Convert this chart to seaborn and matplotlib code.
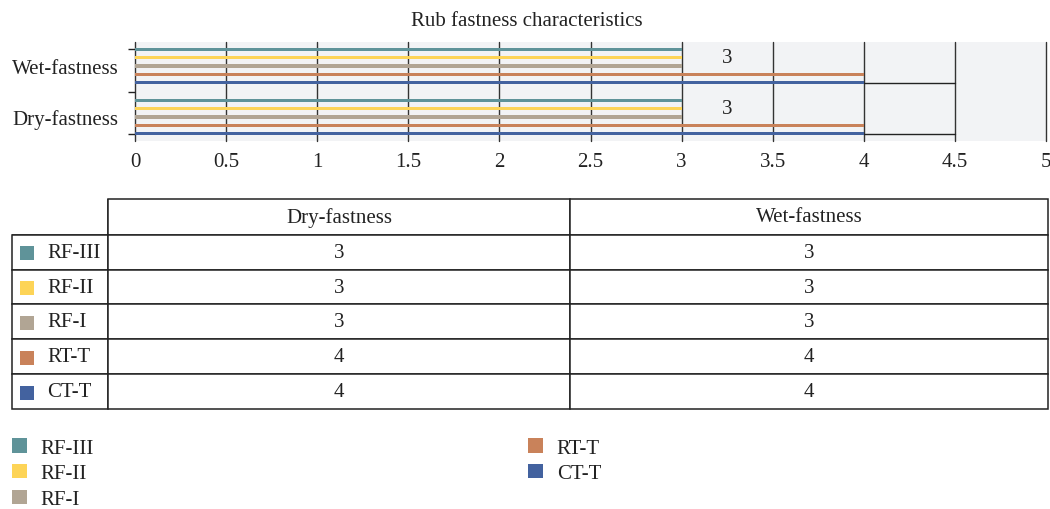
import pandas as pd
import matplotlib
matplotlib.use("Agg")
from matplotlib import pyplot as plt
from matplotlib.patches import Patch, Rectangle
import seaborn as sns

# data
properties = ["Wet-fastness", "Dry-fastness"]   # top to bottom in the chart
samples = ["RF-III", "RF-II", "RF-I", "RT-T", "CT-T"]
dry_fastness = [3, 3, 3, 4, 4]
wet_fastness = [3, 3, 3, 4, 4]
colors = ["#5f9399", "#fdd457", "#b1a594", "#c9825a", "#43629f"]
x_ticks = [0, 0.5, 1, 1.5, 2, 2.5, 3, 3.5, 4, 4.5, 5]
table_cols = ["Dry-fastness", "Wet-fastness"]

W, H = 1050, 510
FONT = 15
TXT = "#222222"

sns.set_style("whitegrid", {"axes.facecolor": "#f2f3f5", "grid.color": "#333333"})
plt.rcParams["font.family"] = ["Liberation Serif", "DejaVu Serif"]
plt.rcParams["text.color"] = TXT

df = pd.DataFrame({
    "property": ["Dry-fastness"] * 5 + ["Wet-fastness"] * 5,
    "sample": samples * 2,
    "value": dry_fastness + wet_fastness,
})

fig = plt.figure(figsize=(W / 100, H / 100), dpi=100)

# --- bar chart ---
ax = fig.add_axes([135 / W, 1 - 142 / H, (1046 - 135) / W, 99 / H])
sns.barplot(data=df, y="property", x="value", hue="sample", order=properties,
            hue_order=samples, palette=colors, orient="h", width=0.82,
            saturation=1, legend=False, ax=ax)

# bars drawn as thin strips, like in the reference
thick = 0.06
for p in ax.patches:
    cy = p.get_y() + p.get_height() / 2
    p.set_height(thick)
    p.set_y(cy - thick / 2)
    p.set_edgecolor("none")
    p.set_zorder(3)

# value label and the small stray segments past the CT-T bars
n = len(samples)
bars = sorted(ax.patches, key=lambda p: p.get_y())
for g, vals in enumerate([wet_fastness, dry_fastness]):
    grp = bars[g * n:(g + 1) * n]
    y_mid = grp[1].get_y() + thick / 2
    ax.text(3.25, y_mid, str(vals[1]), ha="center", va="center", fontsize=FONT, color=TXT)
    y_ct = grp[-1].get_y() + thick / 2
    ax.plot([4, 4.5], [y_ct, y_ct], color="#222222", lw=1, zorder=2)

ax.set_xlim(0, 5)
ax.set_ylim(1.47, -0.47)
ax.set_xticks(x_ticks)
ax.set_xticklabels([f"{t:g}" for t in x_ticks])
ax.set_yticks([-0.33, 0.5, 1.33], minor=True)
ax.tick_params(axis="y", which="minor", length=5, width=1, color="#222222", left=True)
ax.tick_params(axis="y", which="major", length=0, pad=12, labelsize=FONT, labelcolor=TXT)
ax.tick_params(axis="x", length=0, pad=8, labelsize=FONT, labelcolor=TXT)
ax.grid(True, axis="x", color="#333333", lw=1)
ax.grid(False, axis="y")
ax.set_axisbelow(True)
for gl in ax.get_xgridlines():
    gl.set_clip_on(False)
for s in ax.spines.values():
    s.set_visible(False)
ax.set_xlabel("")
ax.set_ylabel("")
fig.text(527 / W, 1 - 21 / H, "Rub fastness characteristics", ha="center", va="center",
         fontsize=FONT, color=TXT)

# --- data table ---
tax = fig.add_axes([12 / W, 1 - 410 / H, 1036 / W, 210 / H])
tax.axis("off")
cell_text = [["", table_cols[0], table_cols[1]]]
cell_text += [[s, str(d), str(w)] for s, d, w in zip(samples, dry_fastness, wet_fastness)]
tab = tax.table(cellText=cell_text, cellLoc="center", bbox=[0, 0, 1, 1])
tab.auto_set_font_size(False)
tab.set_fontsize(FONT)
widths = [96, 462, 478]
heights = [36] + [35] * len(samples)
for (r, c), cell in tab.get_celld().items():
    cell.set_width(widths[c])
    cell.set_height(heights[r])
    cell.set_linewidth(1.1)
    cell.set_edgecolor("#222222")
    cell.get_text().set_color(TXT)
    if c == 0:
        cell.PAD = 0.365
        cell.get_text().set_ha("left")
        cell._loc = "left"
tab[0, 0].visible_edges = "BR"

# colour squares in the row label cells
y_top = 1 - 36 / 210
row_h = 35 / 210
for i, col in enumerate(colors):
    yc = y_top - (i + 0.5) * row_h
    tax.add_patch(Rectangle((8 / 1036, yc - 7 / 210), 14 / 1036, 14 / 210,
                            transform=tax.transAxes, facecolor=col, edgecolor="none",
                            clip_on=False, zorder=5))

# --- legend ---
handles = [Patch(facecolor=c, edgecolor="none") for c in colors]
fig.legend(handles, samples, ncol=2, loc="upper left",
           bbox_to_anchor=(12 / W, 1 - 439 / H), frameon=False, fontsize=FONT,
           handlelength=0.7, handleheight=0.7, handletextpad=0.67,
           labelspacing=0.3, columnspacing=20.85, borderpad=0, borderaxespad=0)

fig.savefig("out.png", dpi=100, facecolor="white")
